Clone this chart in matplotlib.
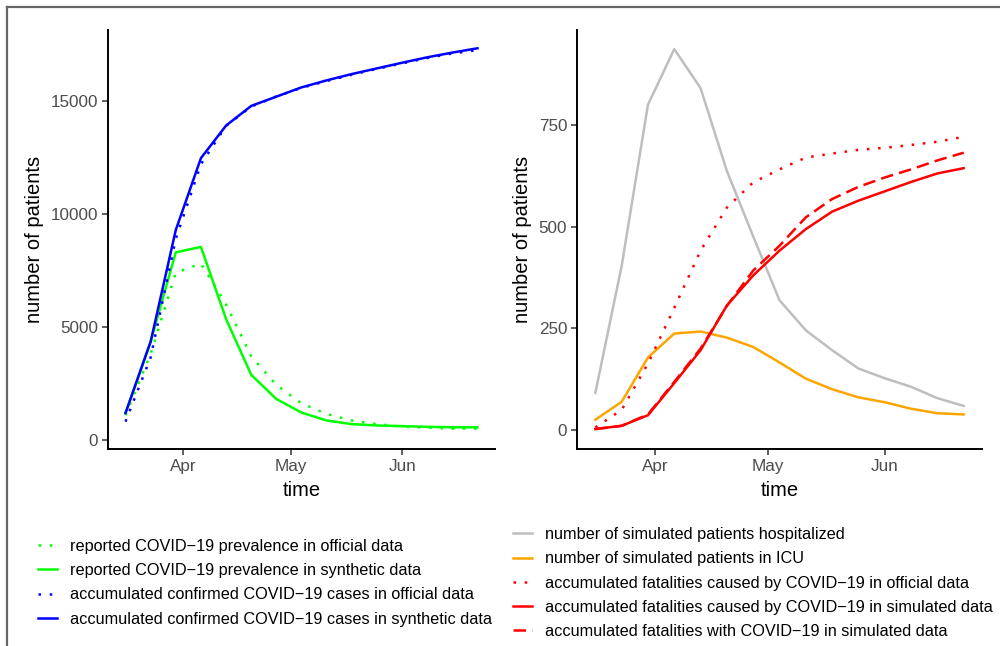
import numpy as np
import pandas as pd
import matplotlib
matplotlib.use("Agg")
import matplotlib.pyplot as plt
import matplotlib.dates as mdates
from matplotlib.lines import Line2D

plt.rcParams["font.family"] = ["Liberation Sans", "DejaVu Sans"]

# weekly time points
dates = pd.date_range("2020-03-16", periods=15, freq="7D")

# left panel: prevalence and accumulated cases
prev_official = [1100, 3800, 7400, 7800, 6000, 3700, 2430, 1620, 1150, 860, 700, 590, 540, 500, 500]
prev_synthetic = [1180, 4350, 8300, 8540, 5350, 2880, 1810, 1210, 860, 700, 640, 610, 580, 560, 560]
cases_official = [810, 3650, 8900, 12200, 13900, 14750, 15200, 15580, 15880, 16160, 16420, 16660, 16900, 17100, 17250]
cases_synthetic = [1190, 4350, 9290, 12470, 13910, 14780, 15190, 15600, 15910, 16190, 16440, 16690, 16930, 17140, 17330]

# right panel: hospital load and fatalities
hospitalized = [91, 403, 800, 937, 841, 637, 476, 319, 245, 196, 151, 127, 106, 78, 59]
icu = [25, 69, 178, 237, 242, 227, 204, 166, 126, 100, 80, 68, 52, 41, 38]
fat_official = [6, 49, 163, 300, 441, 547, 609, 641, 670, 680, 689, 694, 701, 709, 721]
fat_simulated = [2, 10, 36, 115, 196, 306, 380, 441, 494, 537, 564, 587, 610, 631, 644]
fat_with = [2, 10, 38, 118, 200, 305, 392, 453, 523, 568, 598, 621, 641, 663, 682]

left_labels = [
    "reported COVID\u221219 prevalence in official data",
    "reported COVID\u221219 prevalence in synthetic data",
    "accumulated confirmed COVID\u221219 cases in official data",
    "accumulated confirmed COVID\u221219 cases in synthetic data",
]
right_labels = [
    "number of simulated patients hospitalized",
    "number of simulated patients in ICU",
    "accumulated fatalities caused by COVID\u221219 in official data",
    "accumulated fatalities caused by COVID\u221219 in simulated data",
    "accumulated fatalities with COVID\u221219 in simulated data",
]

DOT = (0, (1, 3.5))
DASH = (0, (5, 2.5))
LW = 1.8

fig = plt.figure(figsize=(10, 6.46), dpi=100)
ax1 = fig.add_axes([0.108, 0.305, 0.387, 0.6486])
ax2 = fig.add_axes([0.577, 0.305, 0.405, 0.6486])

ax1.plot(dates, prev_official, color="#00FF00", ls=DOT, lw=LW, label=left_labels[0])
ax1.plot(dates, prev_synthetic, color="#00FF00", ls="-", lw=LW, label=left_labels[1])
ax1.plot(dates, cases_official, color="#0000FF", ls=DOT, lw=LW, label=left_labels[2])
ax1.plot(dates, cases_synthetic, color="#0000FF", ls="-", lw=LW, label=left_labels[3])

ax2.plot(dates, hospitalized, color="#BEBEBE", ls="-", lw=LW, label=right_labels[0])
ax2.plot(dates, icu, color="#FFA500", ls="-", lw=LW, label=right_labels[1])
ax2.plot(dates, fat_official, color="#FF0000", ls=DOT, lw=LW, label=right_labels[2])
ax2.plot(dates, fat_simulated, color="#FF0000", ls="-", lw=LW, label=right_labels[3])
ax2.plot(dates, fat_with, color="#FF0000", ls=DASH, lw=LW, label=right_labels[4])

xlim = (pd.Timestamp("2020-03-11 03:00"), pd.Timestamp("2020-06-26 21:00"))
ax1.set_ylim(-400, 18140)
ax1.set_yticks([0, 5000, 10000, 15000])
ax2.set_ylim(-47, 984)
ax2.set_yticks([0, 250, 500, 750])

for ax in (ax1, ax2):
    ax.set_xlim(*xlim)
    ax.xaxis.set_major_locator(mdates.MonthLocator())
    ax.xaxis.set_major_formatter(mdates.DateFormatter("%b"))
    for s in ("top", "right"):
        ax.spines[s].set_visible(False)
    for s in ("left", "bottom"):
        ax.spines[s].set_linewidth(1.4)
        ax.spines[s].set_color("black")
    ax.tick_params(length=4, width=1.1, color="#333333", labelsize=12.3,
                   labelcolor="#4D4D4D", pad=3)
    ax.set_xlabel("time", fontsize=14.5, labelpad=5)
    ax.set_ylabel("number of patients", fontsize=14.5, labelpad=5)

leg_kw = dict(frameon=False, fontsize=11.7, handlelength=1.17, handletextpad=0.8,
              labelspacing=0.57, borderpad=0, borderaxespad=0, loc="upper left")
h1, l1 = ax1.get_legend_handles_labels()
fig.legend(h1, l1, bbox_to_anchor=(0.038, 0.166), **leg_kw)
h2, l2 = ax2.get_legend_handles_labels()
fig.legend(h2, l2, bbox_to_anchor=(0.513, 0.184), **leg_kw)

# grey frame on top and left edge
fig.add_artist(Line2D([0.007, 0.007], [0, 0.989], transform=fig.transFigure,
                      color="#666666", lw=1.6))
fig.add_artist(Line2D([0.007, 1.0], [0.989, 0.989], transform=fig.transFigure,
                      color="#666666", lw=1.6))

fig.savefig("out.png", dpi=100)
